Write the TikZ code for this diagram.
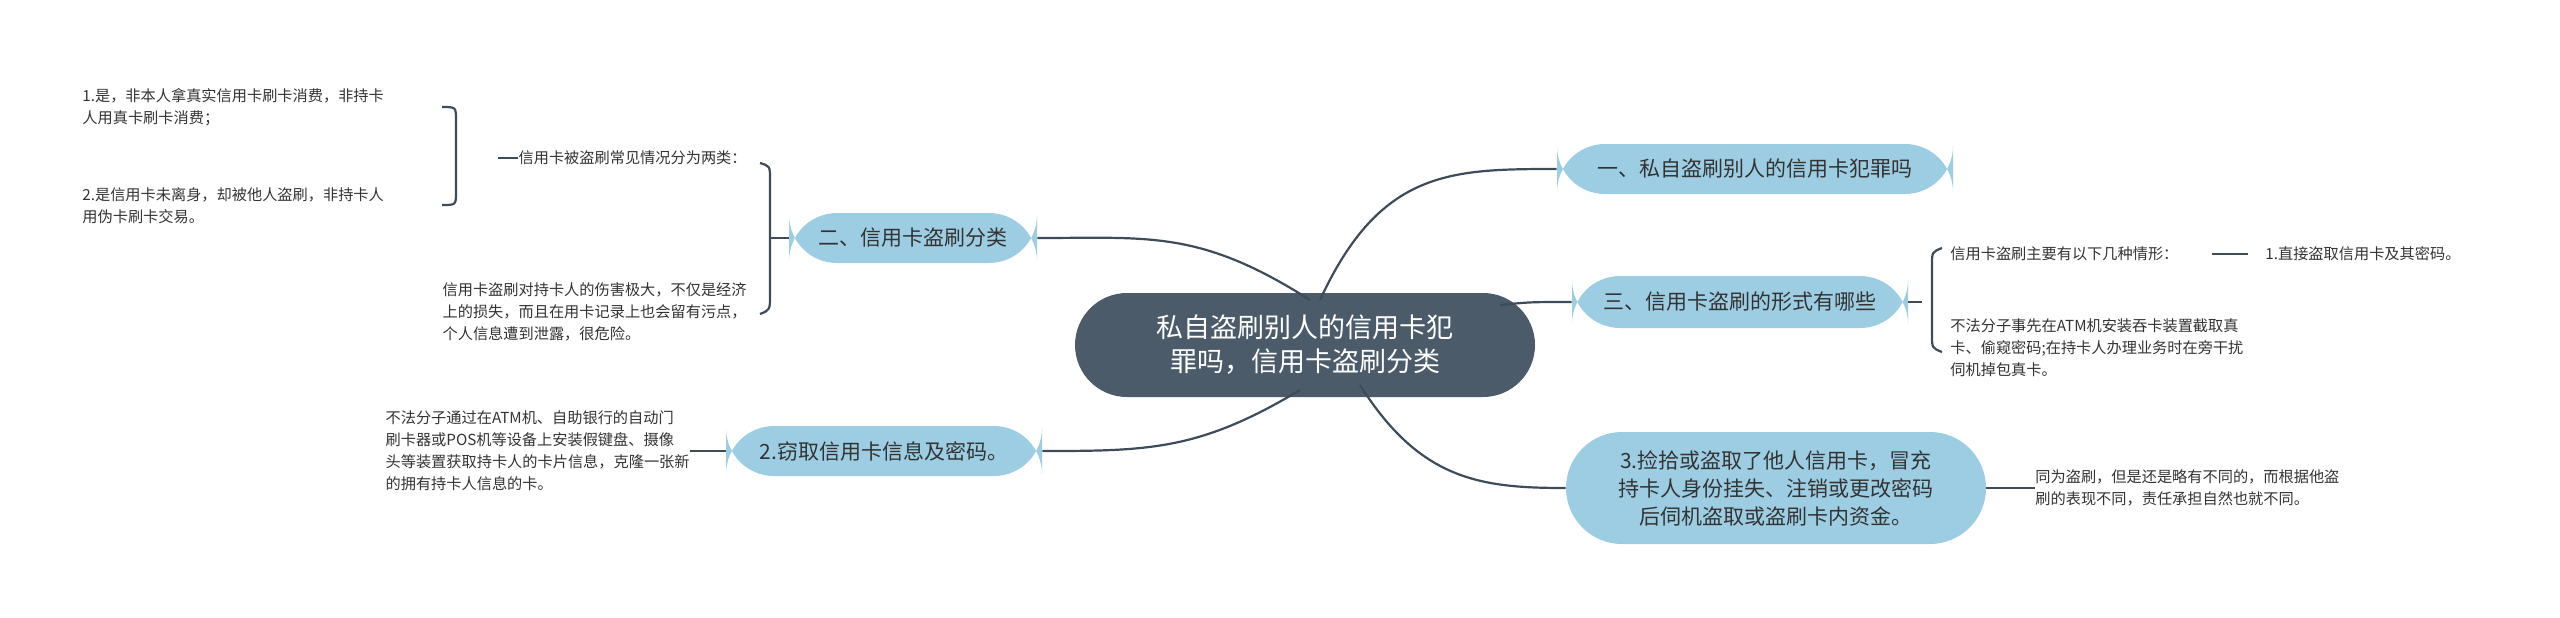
\documentclass[tikz,border=0pt]{standalone}
\usepackage{fontspec}
\setmainfont{Noto Sans CJK SC}
\begin{document}
\begin{tikzpicture}[x=0.5pt,y=-0.5pt,
  lnk/.style={draw=linec,line width=1.1pt},
  branch/.style={fill=blueb,rounded corners=24pt,text=txt,font=\fontsize{10.5}{14}\selectfont,inner xsep=12pt,align=center},
  small/.style={text=txt,font=\fontsize{7.6}{11}\selectfont,inner sep=0pt}]
\definecolor{linec}{HTML}{3E4C59}
\definecolor{blueb}{HTML}{9DCDE3}
\definecolor{txt}{HTML}{333333}
\definecolor{dark}{HTML}{4B5B69}
\useasboundingbox (0,0) rectangle (2560,617);
% nodes
\node[fill=dark,rounded corners=26pt,minimum width=230pt,minimum height=52pt,text=white,font=\fontsize{13.5}{17}\selectfont,align=center] (c) at (1305,345) {私自盗刷别人的信用卡犯\\罪吗，信用卡盗刷分类};
\node[branch,minimum width=198pt,minimum height=25pt] (b1) at (1755,169) {一、私自盗刷别人的信用卡犯罪吗};
\node[branch,minimum width=168pt,minimum height=26pt] (b3) at (1740,302) {三、信用卡盗刷的形式有哪些};
\node[branch,minimum width=210pt,minimum height=56pt,rounded corners=28pt] (b4) at (1776,488) {3.捡拾或盗取了他人信用卡，冒充\\持卡人身份挂失、注销或更改密码\\后伺机盗取或盗刷卡内资金。};
\node[branch,minimum width=124pt,minimum height=25pt] (b2) at (913,238) {二、信用卡盗刷分类};
\node[branch,minimum width=158pt,minimum height=25pt] (b5) at (884,451) {2.窃取信用卡信息及密码。};
% center links
\draw[lnk] (1320,300) .. controls (1380,170) and (1450,169) .. (b1.west);
\draw[lnk] (1500,305) .. controls (1530,302) .. (b3.west);
\draw[lnk] (1360,385) .. controls (1420,480) and (1480,488) .. (b4.west);
\draw[lnk] (1310,300) .. controls (1200,230) and (1150,238) .. (b2.east);
\draw[lnk] (1300,390) .. controls (1200,450) and (1150,451) .. (b5.east);
% 二 children
\node[small,anchor=east] (t1) at (747,158) {信用卡被盗刷常见情况分为两类：};
\node[small,anchor=north east,align=left] (t2) at (747,282) {信用卡盗刷对持卡人的伤害极大，不仅是经济\\上的损失，而且在用卡记录上也会留有污点，\\个人信息遭到泄露，很危险。};
\draw[lnk] (b2.west) -- (770,238);
\draw[lnk] (760,163) .. controls (770,166) .. (770,180) -- (770,295) .. controls (770,310) .. (760,314);
\node[small,anchor=north west,align=left] (t11) at (82,88) {1.是，非本人拿真实信用卡刷卡消费，非持卡\\人用真卡刷卡消费；};
\node[small,anchor=north west,align=left] (t12) at (82,187) {2.是信用卡未离身，却被他人盗刷，非持卡人\\用伪卡刷卡交易。};
\draw[lnk] (t1.west) -- +(-20,0) coordinate (k1);
\draw[lnk] (442,107) .. controls (456,107) .. (456,120) -- (456,192) .. controls (456,205) .. (442,205);
% 三 children
\node[small,anchor=west] (t3) at (1950,254) {信用卡盗刷主要有以下几种情形：};
\node[small,anchor=west] (t31) at (2265,254) {1.直接盗取信用卡及其密码。};
\draw[lnk] (2212,254) -- (2248,254);
\node[small,anchor=north west,align=left] (t4) at (1950,318) {不法分子事先在ATM机安装吞卡装置截取真\\卡、偷窥密码;在持卡人办理业务时在旁干扰\\伺机掉包真卡。};
\draw[lnk] (b3.east) -- (1922,302);
\draw[lnk] (1942,248) .. controls (1932,252) .. (1932,265) -- (1932,335) .. controls (1932,348) .. (1942,352);
% 3. child
\node[small,anchor=west,align=left] (t5) at (2035,488) {同为盗刷，但是还是略有不同的，而根据他盗\\刷的表现不同，责任承担自然也就不同。};
\draw[lnk] (b4.east) -- (t5.west);
% 2. child
\node[small,anchor=east,align=left] (t6) at (690,451) {不法分子通过在ATM机、自助银行的自动门\\刷卡器或POS机等设备上安装假键盘、摄像\\头等装置获取持卡人的卡片信息，克隆一张新\\的拥有持卡人信息的卡。};
\draw[lnk] (b5.west) -- (t6.east);
\end{tikzpicture}
\end{document}
